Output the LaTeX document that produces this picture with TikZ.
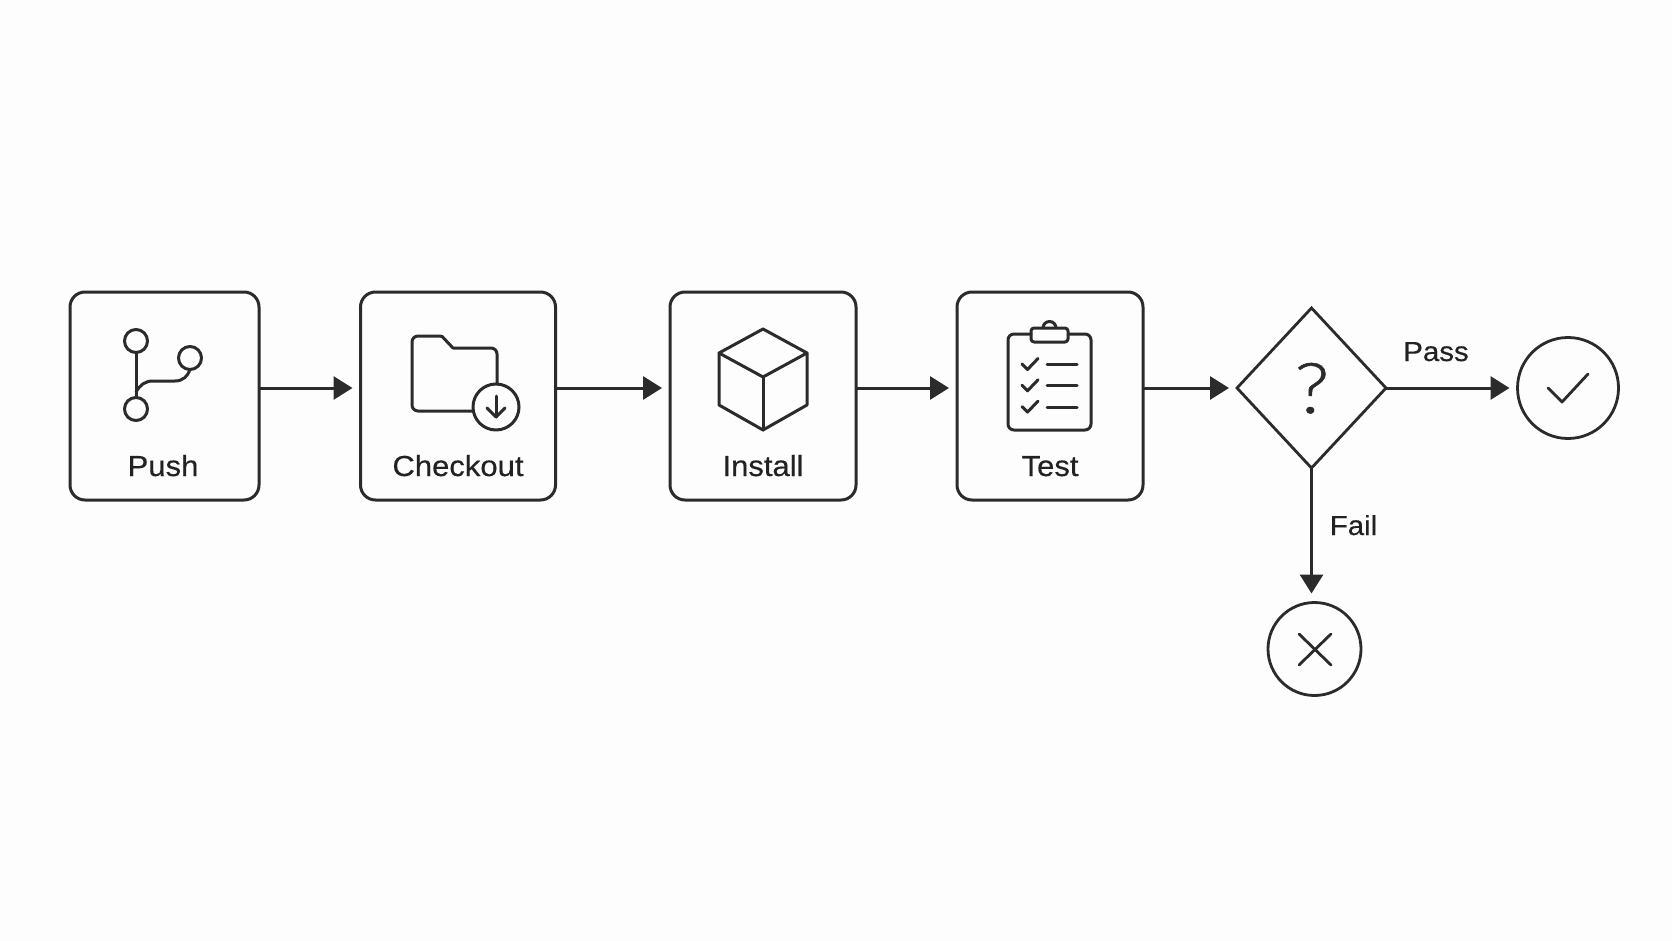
\documentclass[tikz,border=0pt]{standalone}
\usepackage{fontspec}
\setmainfont[FakeStretch=1.07,FakeBold=0.35]{Liberation Sans}
\newfontfamily\qfont[FakeStretch=1.15,FakeBold=0.8]{Lato Light}
\usetikzlibrary{arrows.meta,shapes.geometric}
\definecolor{ink}{HTML}{2B2B2B}
\definecolor{texink}{HTML}{222222}
\definecolor{paper}{HTML}{FDFDFD}
\tikzset{
  x=1pt,y=-1pt,
  stepbox/.style={draw=ink,line width=3pt,rounded corners=15pt,minimum height=208pt,inner sep=0pt,outer sep=0pt},
  conn/.style={draw=ink,line width=3pt,-{Triangle[length=19pt,width=23pt]},shorten >=8pt},
  icon/.style={draw=ink,line width=3pt,line cap=round,line join=round},
  thinicon/.style={draw=ink,line width=2.8pt,line cap=round,line join=round},
  steplabel/.style={text=texink,font=\fontsize{29}{32}\selectfont,anchor=base,inner sep=0pt},
  edgelabel/.style={text=texink,font=\fontsize{27.5}{32}\selectfont,anchor=base,inner sep=0pt},
  endcircle/.style={circle,draw=ink,line width=2.8pt,inner sep=0pt,outer sep=0pt},
}
\begin{document}
\begin{tikzpicture}
\useasboundingbox (0,0) rectangle (1672,941);
\fill[paper] (0,0) rectangle (1672,941);
% boxes
\node[stepbox,minimum width=189pt] (push) at (164.5,396) {};
\node[stepbox,minimum width=195pt] (checkout) at (458,396) {};
\node[stepbox,minimum width=186pt] (install) at (763,396) {};
\node[stepbox,minimum width=186pt] (test) at (1050,396) {};
\node[diamond,draw=ink,line width=2.8pt,minimum width=149pt,minimum height=160pt,inner sep=0pt,outer sep=0pt] (dec) at (1311.5,388) {};
\node[endcircle,minimum size=101pt] (pass) at (1568,388) {};
\node[endcircle,minimum size=93pt] (fail) at (1314.5,649) {};
% labels
\node[steplabel] (lpush) at (163,476) {Push};
\node[steplabel] (lcheckout) at (458,476) {Checkout};
\node[steplabel] (linstall) at (763,476) {Install};
\node[steplabel] (ltest) at (1050,476) {Test};
\node[edgelabel] (lpass) at (1436,361) {Pass};
\node[edgelabel] (lfail) at (1353.5,535) {Fail};
\node[text=ink,font=\qfont\fontsize{70}{72}\selectfont,anchor=base,inner sep=0pt] (q) at (1312,413) {?};
% connectors
\draw[conn] (push.east |- dec.west) -- (checkout.west |- dec.west);
\draw[conn] (checkout.east |- dec.west) -- (install.west |- dec.west);
\draw[conn] (install.east |- dec.west) -- (test.west |- dec.west);
\draw[conn] (test.east |- dec.west) -- (dec.west);
\draw[conn] (dec.east) -- (pass.west);
\draw[conn,shorten >=9pt] (dec.south) -- (dec.south |- fail.north);
% push icon
\draw[icon] (136,341) circle (11.5);
\draw[icon] (190,358) circle (11.5);
\draw[icon] (136,409) circle (11.5);
\draw[icon] (136,352.5) -- (136,397.5);
\draw[icon] (136,392) .. controls (140,385) and (145,381) .. (153,381) -- (175,381) .. controls (183,381) and (188,376) .. (190,369.5);
% folder icon
\draw[icon] (497,384) -- (497,354) arc (0:-90:6) -- (453,348) -- (444,338.5) .. controls (443,337) and (442,336) .. (440,336)
  -- (418,336) arc (-90:-180:6) -- (412,405) arc (180:90:6) -- (473,411);
\draw[icon] (496,407) circle (23);
\draw[icon] (496,396) -- (496,417);
\draw[icon] (487,408) -- (496,417) -- (505,408);
% cube icon
\draw[icon] (763,329) -- (807,353) -- (807,405) -- (763,430) -- (719,405) -- (719,353) -- cycle;
\draw[icon] (719,353) -- (763,377) -- (807,353);
\draw[icon] (763,377) -- (763,430);
% clipboard icon
\draw[icon] (1031,334) -- (1014,334) arc (-90:-180:6) -- (1008,424) arc (180:90:6) -- (1085,430) arc (90:0:6) -- (1091,340) arc (0:-90:6) -- (1068,334);
\draw[icon,rounded corners=3pt] (1031,328) rectangle (1068,342);
\draw[icon] (1043,328) arc (180:360:6.5);
\foreach \y in {0,21.3,42.6}{
  \draw[icon] (1022,364+\y) -- (1027.5,369.5+\y) -- (1038,358.5+\y);
  \draw[icon] (1047,364.5+\y) -- (1077,364.5+\y);
}
% end marks
\draw[thinicon] (1548,388) -- (1562,402) -- (1588,374);
\draw[thinicon] (1299,634) -- (1331,665);
\draw[thinicon] (1331,634) -- (1299,665);
\end{tikzpicture}
\end{document}
